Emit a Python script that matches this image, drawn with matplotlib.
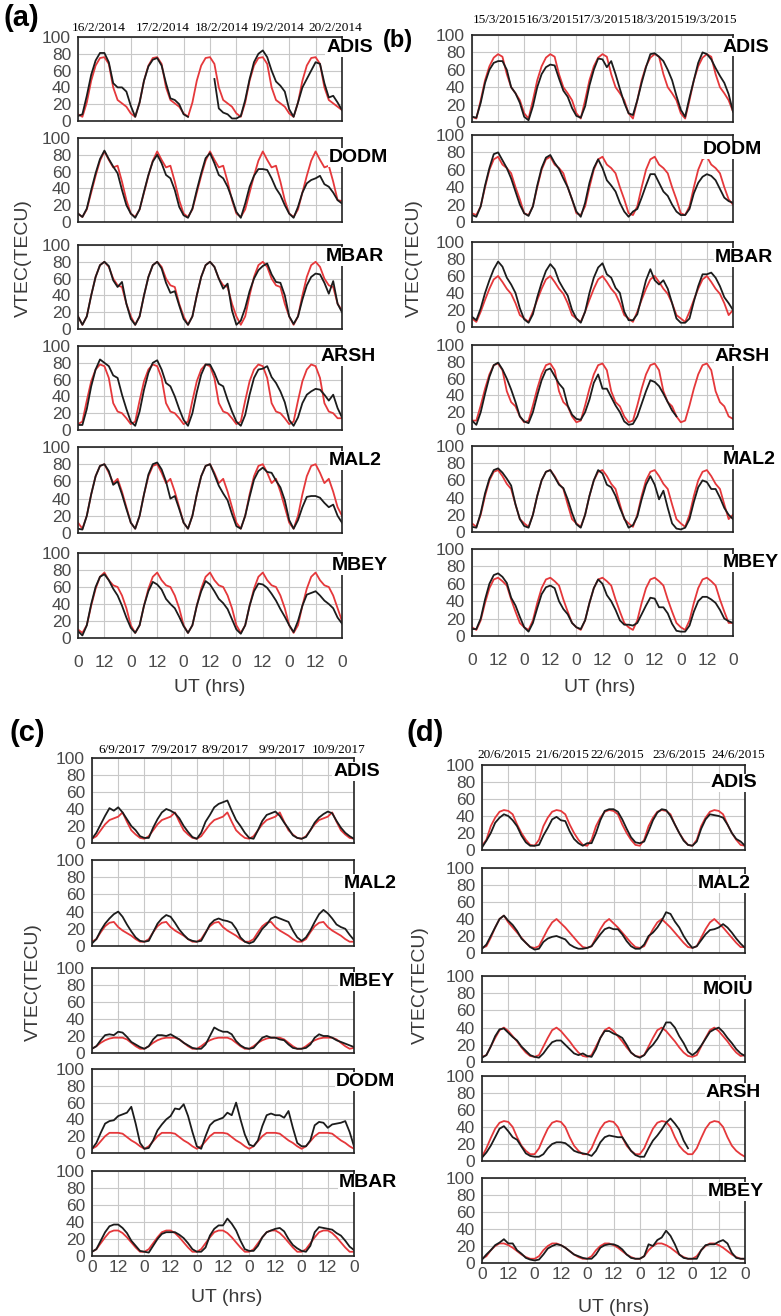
import matplotlib
matplotlib.use("Agg")
import matplotlib.pyplot as plt
import numpy as np

nan = np.nan
W, H = 781, 1316  # canvas in px
hours = np.arange(0, 121, 2)  # UT hours over the 5 days, 2 h steps

# |-----------------------------|
# | (a) 16-20 February 2014     |
# |-----------------------------|
a_dates = ["16/2/2014", "17/2/2014", "18/2/2014", "19/2/2014", "20/2/2014"]
a_stations = ["ADIS", "DODM", "MBAR", "ARSH", "MAL2", "MBEY"]

a_adis_red = [8, 5, 22, 48, 66, 75, 76, 68, 40, 25, 21, 17,
              9, 5, 22, 48, 66, 75, 76, 68, 40, 25, 21, 17,
              9, 5, 22, 48, 66, 75, 76, 68, 40, 25, 21, 17,
              9, 5, 22, 48, 66, 75, 76, 68, 40, 25, 21, 17,
              9, 5, 22, 48, 66, 75, 76, 68, 40, 25, 21, 17, 13]
a_adis_black = [6, 8, 30, 55, 72, 81, 81, 70, 45, 40, 40, 35,
                18, 5, 22, 48, 65, 73, 75, 66, 45, 27, 25, 20,
                8, 5, nan, nan, nan, nan, nan, 50, 15, 10, 8, 3,
                3, 6, 25, 50, 70, 80, 84, 76, 60, 47, 42, 35,
                14, 5, 22, 40, 50, 60, 70, 68, 45, 28, 30, 22, 13]

a_dodm_red = [10, 6, 15, 35, 55, 73, 84, 74, 65, 67, 48, 26,
              10, 6, 15, 35, 55, 73, 84, 74, 65, 67, 48, 26,
              10, 6, 15, 35, 55, 73, 84, 74, 65, 67, 48, 26,
              10, 6, 15, 35, 55, 73, 84, 74, 65, 67, 48, 26,
              10, 6, 15, 35, 55, 73, 84, 74, 65, 67, 48, 26, 25]
a_dodm_black = [10, 6, 16, 38, 58, 75, 85, 75, 66, 58, 38, 20,
                10, 5, 15, 36, 56, 72, 80, 70, 56, 52, 38, 18,
                8, 5, 16, 38, 58, 76, 82, 70, 56, 52, 42, 28,
                12, 5, 22, 42, 55, 63, 63, 62, 52, 40, 32, 20,
                10, 5, 18, 35, 46, 50, 52, 55, 45, 42, 35, 26, 22]

a_mbar_red = [15, 5, 15, 40, 62, 76, 80, 74, 60, 52, 50, 30,
              15, 5, 15, 40, 62, 76, 80, 74, 60, 52, 50, 30,
              15, 5, 15, 40, 62, 76, 80, 74, 60, 52, 50, 30,
              15, 5, 15, 40, 62, 76, 80, 74, 60, 52, 50, 30,
              15, 5, 15, 40, 62, 76, 80, 74, 60, 52, 50, 30, 22]
a_mbar_black = [15, 5, 15, 40, 62, 76, 80, 75, 58, 50, 56, 30,
                12, 5, 15, 40, 62, 76, 80, 72, 55, 43, 45, 28,
                12, 5, 15, 40, 62, 76, 80, 74, 60, 48, 54, 22,
                5, 10, 25, 45, 60, 70, 75, 78, 65, 56, 55, 40,
                15, 6, 15, 35, 52, 62, 66, 65, 55, 42, 57, 30, 20]

a_arsh_red = [7, 10, 35, 58, 72, 78, 76, 62, 32, 22, 20, 14,
              7, 10, 35, 58, 72, 78, 76, 62, 32, 22, 20, 14,
              7, 10, 35, 58, 72, 78, 76, 62, 32, 22, 20, 14,
              7, 10, 35, 58, 72, 78, 76, 62, 32, 22, 20, 14,
              7, 10, 35, 58, 72, 78, 76, 62, 32, 22, 20, 14, 14]
a_arsh_black = [6, 6, 25, 52, 72, 84, 80, 76, 65, 62, 42, 25,
                10, 5, 22, 48, 68, 80, 83, 72, 56, 52, 40, 25,
                12, 5, 20, 45, 66, 78, 78, 68, 55, 52, 36, 22,
                10, 5, 18, 42, 62, 72, 73, 76, 63, 56, 46, 33,
                12, 5, 15, 32, 42, 46, 49, 48, 42, 35, 42, 26, 15]

a_mal2_red = [12, 5, 20, 45, 66, 78, 80, 70, 58, 63, 48, 30,
              12, 5, 20, 45, 66, 78, 80, 70, 58, 63, 48, 30,
              12, 5, 20, 45, 66, 78, 80, 70, 58, 63, 48, 30,
              12, 5, 20, 45, 66, 78, 80, 70, 58, 63, 48, 30,
              12, 5, 20, 45, 66, 78, 80, 70, 58, 63, 48, 30, 20]
a_mal2_black = [5, 4, 20, 45, 66, 78, 80, 72, 56, 60, 45, 28,
                12, 5, 20, 45, 68, 80, 82, 74, 60, 40, 43, 28,
                12, 5, 20, 45, 66, 78, 80, 68, 55, 46, 38, 22,
                8, 5, 20, 42, 62, 72, 76, 71, 70, 61, 53, 38,
                15, 5, 15, 30, 42, 43, 43, 41, 35, 30, 33, 20, 12]

a_mbey_red = [10, 6, 15, 38, 58, 72, 77, 68, 62, 60, 50, 35,
              15, 6, 15, 38, 58, 72, 77, 68, 62, 60, 50, 35,
              15, 6, 15, 38, 58, 72, 77, 68, 62, 60, 50, 35,
              15, 6, 15, 38, 58, 72, 77, 68, 62, 60, 50, 35,
              15, 6, 15, 38, 58, 72, 77, 68, 62, 60, 50, 35, 20]
a_mbey_black = [8, 3, 15, 40, 60, 72, 75, 68, 58, 50, 38, 24,
                12, 6, 15, 38, 55, 66, 63, 57, 46, 40, 35, 25,
                14, 6, 15, 38, 55, 67, 63, 55, 46, 41, 34, 22,
                10, 5, 15, 38, 55, 64, 63, 59, 52, 44, 34, 25,
                15, 7, 20, 38, 51, 53, 55, 50, 44, 40, 35, 24, 17]

# |-----------------------------|
# | (b) 15-19 March 2015        |
# |-----------------------------|
b_dates = ["15/3/2015", "16/3/2015", "17/3/2015", "18/3/2015", "19/3/2015"]
b_stations = ["ADIS", "DODM", "MBAR", "ARSH", "MAL2", "MBEY"]

b_adis_red = [6, 4, 25, 48, 64, 74, 78, 75, 55, 40, 33, 25,
              10, 4, 25, 48, 64, 74, 78, 75, 55, 40, 33, 25,
              10, 4, 25, 48, 64, 74, 78, 75, 55, 40, 33, 25,
              10, 4, 25, 48, 64, 74, 78, 75, 55, 40, 33, 25,
              10, 4, 25, 48, 64, 74, 78, 75, 55, 40, 33, 25, 12]
b_adis_black = [6, 5, 22, 45, 60, 68, 70, 70, 60, 40, 33, 22,
                6, 2, 18, 40, 55, 63, 66, 65, 50, 36, 29, 16,
                7, 5, 18, 42, 60, 73, 72, 63, 70, 55, 38, 22,
                10, 8, 25, 45, 63, 78, 79, 75, 70, 60, 48, 30,
                14, 6, 28, 48, 68, 80, 78, 72, 62, 53, 45, 32, 12]

b_dodm_red = [10, 8, 18, 40, 60, 72, 75, 66, 62, 56, 40, 26,
              10, 8, 18, 40, 60, 72, 75, 66, 62, 56, 40, 26,
              10, 8, 18, 40, 60, 72, 75, 66, 62, 56, 40, 26,
              10, 8, 18, 40, 60, 72, 75, 66, 62, 56, 40, 26,
              10, 8, 18, 40, 60, 72, 75, 66, 62, 56, 40, 26, 20]
b_dodm_black = [8, 6, 18, 42, 62, 78, 80, 71, 62, 50, 35, 20,
                10, 7, 18, 42, 62, 74, 77, 68, 61, 50, 40, 26,
                12, 6, 22, 45, 62, 72, 62, 48, 42, 35, 22, 12,
                6, 12, 15, 28, 42, 55, 55, 45, 35, 30, 20, 12,
                8, 8, 15, 33, 45, 52, 55, 53, 48, 38, 28, 24, 22]

b_mbar_red = [10, 6, 18, 32, 45, 56, 60, 53, 45, 39, 28, 14,
              10, 6, 18, 32, 45, 56, 60, 53, 45, 39, 28, 14,
              10, 6, 18, 32, 45, 56, 60, 53, 45, 39, 28, 14,
              10, 6, 18, 32, 45, 56, 60, 53, 45, 39, 28, 14,
              10, 6, 18, 32, 45, 56, 60, 53, 45, 39, 28, 14, 20]
b_mbar_black = [12, 8, 22, 40, 55, 68, 77, 71, 58, 50, 40, 22,
                9, 5, 15, 35, 52, 66, 74, 68, 54, 45, 37, 20,
                10, 5, 18, 40, 58, 70, 75, 62, 58, 46, 40, 18,
                8, 8, 15, 35, 55, 68, 55, 50, 55, 45, 28, 10,
                5, 5, 10, 30, 48, 62, 62, 64, 58, 48, 35, 28, 20]

b_arsh_red = [10, 10, 28, 48, 65, 76, 78, 70, 45, 32, 27, 15,
              8, 10, 28, 48, 65, 76, 78, 70, 45, 32, 27, 15,
              8, 10, 28, 48, 65, 76, 78, 70, 45, 32, 27, 15,
              8, 10, 28, 48, 65, 76, 78, 70, 45, 32, 27, 15,
              8, 10, 28, 48, 65, 76, 78, 70, 45, 32, 27, 15, 12]
b_arsh_black = [10, 5, 20, 42, 62, 76, 79, 71, 60, 47, 32, 15,
                9, 7, 20, 40, 58, 70, 72, 63, 54, 48, 28, 17,
                12, 11, 20, 35, 55, 65, 48, 48, 38, 28, 20, 9,
                5, 6, 15, 30, 45, 58, 56, 51, 42, 32, 22, 15,
                nan, nan, nan, nan, nan, nan, nan, nan, nan, nan, nan, nan, nan]

b_mal2_red = [10, 6, 20, 42, 60, 70, 72, 65, 56, 50, 32, 15,
              10, 6, 20, 42, 60, 70, 72, 65, 56, 50, 32, 15,
              10, 6, 20, 42, 60, 70, 72, 65, 56, 50, 32, 15,
              10, 6, 20, 42, 60, 70, 72, 65, 56, 50, 32, 15,
              10, 6, 20, 42, 60, 70, 72, 65, 56, 50, 32, 15, 20]
b_mal2_black = [6, 5, 22, 45, 62, 72, 74, 69, 62, 54, 32, 15,
                7, 5, 20, 42, 60, 70, 72, 64, 55, 51, 38, 22,
                9, 5, 20, 42, 60, 72, 68, 55, 52, 42, 28, 16,
                5, 8, 18, 38, 55, 65, 55, 38, 48, 28, 10, 4,
                3, 5, 15, 35, 52, 60, 58, 50, 50, 40, 28, 20, 15]

b_mbey_red = [10, 7, 18, 38, 55, 65, 67, 63, 58, 42, 28, 15,
              10, 7, 18, 38, 55, 65, 67, 63, 58, 42, 28, 15,
              10, 7, 18, 38, 55, 65, 67, 63, 58, 42, 28, 15,
              10, 7, 18, 38, 55, 65, 67, 63, 58, 42, 28, 15,
              10, 7, 18, 38, 55, 65, 67, 63, 58, 42, 28, 15, 15]
b_mbey_black = [8, 8, 20, 42, 60, 70, 72, 68, 61, 44, 35, 22,
                10, 5, 15, 32, 48, 56, 58, 55, 40, 31, 25, 15,
                10, 8, 18, 38, 55, 65, 60, 47, 40, 30, 18, 13,
                13, 12, 15, 25, 35, 44, 43, 33, 33, 26, 14, 6,
                5, 5, 12, 28, 40, 45, 45, 42, 38, 30, 20, 17, 15]

# |-----------------------------|
# | (c) 6-10 September 2017     |
# |-----------------------------|
c_dates = ["6/9/2017", "7/9/2017", "8/9/2017", "9/9/2017", "10/9/2017"]
c_stations = ["ADIS", "MAL2", "MBEY", "DODM", "MBAR"]

c_adis_red = [5, 8, 15, 22, 27, 29, 31, 36, 25, 15, 10, 6,
              5, 8, 15, 22, 27, 29, 31, 36, 25, 15, 10, 6,
              5, 8, 15, 22, 27, 29, 31, 36, 25, 15, 10, 6,
              5, 8, 15, 22, 27, 29, 31, 36, 25, 15, 10, 6,
              5, 8, 15, 22, 27, 29, 31, 36, 25, 15, 10, 6, 5]
c_adis_black = [5, 12, 22, 32, 41, 38, 42, 36, 28, 20, 15, 8,
                6, 6, 18, 28, 36, 40, 38, 35, 29, 20, 13, 7,
                5, 12, 25, 33, 42, 46, 48, 50, 38, 27, 20, 12,
                6, 5, 15, 26, 33, 35, 37, 32, 24, 17, 9, 6,
                5, 7, 15, 24, 30, 34, 37, 35, 26, 18, 12, 8, 5]

c_mal2_red = [5, 8, 16, 23, 27, 28, 22, 18, 15, 12, 8, 5,
              5, 8, 16, 23, 27, 28, 22, 18, 15, 12, 8, 5,
              5, 8, 16, 23, 27, 28, 22, 18, 15, 12, 8, 5,
              5, 8, 16, 23, 27, 28, 22, 18, 15, 12, 8, 5,
              5, 8, 16, 23, 27, 28, 22, 18, 15, 12, 8, 5, 5]
c_mal2_black = [3, 8, 18, 26, 32, 37, 40, 34, 25, 17, 10, 6,
                5, 6, 16, 26, 32, 36, 34, 27, 19, 13, 8, 6,
                5, 6, 15, 25, 30, 32, 30, 29, 27, 20, 10, 5,
                3, 5, 12, 20, 25, 32, 34, 32, 30, 28, 18, 10,
                6, 10, 18, 28, 37, 42, 38, 32, 25, 22, 20, 13, 7]

c_mbey_red = [5, 8, 12, 15, 17, 18, 18, 18, 16, 12, 8, 5,
              5, 8, 12, 15, 17, 18, 18, 18, 16, 12, 8, 5,
              5, 8, 12, 15, 17, 18, 18, 18, 16, 12, 8, 5,
              5, 8, 12, 15, 17, 18, 18, 18, 16, 12, 8, 5,
              5, 8, 12, 15, 17, 18, 18, 18, 16, 12, 8, 5, 6]
c_mbey_black = [5, 8, 15, 21, 22, 21, 25, 24, 19, 13, 10, 7,
                5, 8, 16, 21, 21, 20, 22, 19, 16, 12, 9, 6,
                5, 5, 10, 20, 30, 27, 25, 25, 22, 14, 9, 6,
                5, 6, 12, 18, 20, 18, 18, 16, 15, 10, 6, 5,
                5, 6, 10, 18, 22, 20, 20, 18, 15, 13, 11, 9, 7]

c_dodm_red = [5, 8, 14, 20, 24, 24, 24, 23, 19, 15, 12, 8,
              5, 8, 14, 20, 24, 24, 24, 23, 19, 15, 12, 8,
              5, 8, 14, 20, 24, 24, 24, 23, 19, 15, 12, 8,
              5, 8, 14, 20, 24, 24, 24, 23, 19, 15, 12, 8,
              5, 8, 14, 20, 24, 24, 24, 23, 19, 15, 12, 8, 5]
c_dodm_black = [5, 12, 24, 35, 38, 39, 44, 46, 48, 55, 35, 12,
                5, 6, 15, 27, 34, 40, 44, 53, 52, 58, 44, 25,
                8, 5, 20, 33, 38, 40, 42, 48, 45, 60, 40, 22,
                10, 8, 15, 32, 45, 47, 45, 45, 42, 50, 30, 12,
                8, 8, 15, 33, 37, 36, 30, 34, 35, 36, 38, 25, 8]

c_mbar_red = [5, 8, 15, 22, 28, 30, 30, 27, 22, 16, 10, 5,
              5, 8, 15, 22, 28, 30, 30, 27, 22, 16, 10, 5,
              5, 8, 15, 22, 28, 30, 30, 27, 22, 16, 10, 5,
              5, 8, 15, 22, 28, 30, 30, 27, 22, 16, 10, 5,
              5, 8, 15, 22, 28, 30, 30, 27, 22, 16, 10, 5, 5]
c_mbar_black = [5, 8, 18, 28, 35, 37, 37, 33, 27, 18, 12, 6,
                5, 4, 12, 20, 26, 28, 28, 28, 25, 21, 15, 8,
                5, 5, 10, 24, 32, 36, 36, 44, 38, 30, 18, 8,
                6, 6, 12, 22, 28, 30, 32, 33, 29, 20, 13, 9,
                6, 5, 12, 28, 34, 33, 32, 31, 27, 24, 18, 11, 7]

# |-----------------------------|
# | (d) 20-24 June 2015         |
# |-----------------------------|
d_dates = ["20/6/2015", "21/6/2015", "22/6/2015", "23/6/2015", "24/6/2015"]
d_stations = ["ADIS", "MAL2", "MOIU", "ARSH", "MBEY"]

d_adis_red = [5, 12, 28, 38, 45, 47, 46, 42, 30, 20, 12, 6,
              5, 12, 28, 38, 45, 47, 46, 42, 30, 20, 12, 6,
              5, 12, 28, 38, 45, 47, 46, 42, 30, 20, 12, 6,
              5, 12, 28, 38, 45, 47, 46, 42, 30, 20, 12, 6,
              5, 12, 28, 38, 45, 47, 46, 42, 30, 20, 12, 6, 5]
d_adis_black = [3, 11, 20, 32, 38, 42, 40, 35, 28, 17, 9, 5,
                5, 6, 17, 26, 36, 39, 35, 34, 22, 13, 8, 5,
                8, 8, 20, 35, 46, 48, 48, 45, 36, 25, 15, 9,
                8, 10, 22, 35, 44, 48, 47, 40, 30, 20, 11, 6,
                5, 10, 25, 36, 42, 41, 40, 38, 30, 20, 13, 10, 5]

d_mal2_red = [6, 8, 18, 30, 40, 44, 36, 30, 24, 18, 12, 7,
              6, 8, 18, 28, 36, 40, 35, 30, 24, 18, 12, 7,
              6, 8, 18, 28, 36, 40, 35, 30, 24, 18, 12, 7,
              6, 8, 18, 28, 36, 40, 35, 30, 24, 18, 12, 7,
              6, 8, 18, 28, 36, 40, 35, 30, 24, 18, 12, 7, 7]
d_mal2_black = [5, 10, 20, 30, 40, 44, 38, 33, 26, 17, 12, 7,
                4, 5, 13, 17, 19, 20, 18, 16, 10, 7, 5, 5,
                6, 8, 15, 22, 28, 30, 28, 28, 22, 14, 8, 5,
                5, 10, 20, 24, 30, 38, 48, 46, 37, 30, 20, 12,
                6, 8, 15, 22, 27, 28, 30, 34, 30, 24, 17, 11, 6]

d_moiu_red = [6, 8, 18, 28, 37, 40, 36, 30, 24, 17, 11, 7,
              6, 8, 18, 28, 37, 40, 36, 30, 24, 17, 11, 7,
              6, 8, 18, 28, 37, 40, 36, 30, 24, 17, 11, 7,
              6, 8, 18, 28, 37, 40, 36, 30, 24, 17, 11, 7,
              6, 8, 18, 28, 37, 40, 36, 30, 24, 17, 11, 7, 8]
d_moiu_black = [5, 8, 18, 30, 38, 39, 34, 29, 25, 18, 13, 8,
                6, 5, 10, 17, 23, 25, 25, 20, 15, 10, 8, 10,
                7, 6, 15, 28, 36, 36, 33, 31, 28, 20, 11, 7,
                5, 8, 15, 20, 27, 36, 46, 46, 40, 30, 22, 12,
                8, 12, 19, 27, 35, 38, 40, 35, 28, 22, 15, 10, 7]

d_arsh_red = [5, 15, 27, 38, 45, 47, 46, 40, 28, 18, 12, 8,
              8, 15, 27, 38, 45, 47, 46, 40, 28, 18, 12, 8,
              8, 15, 27, 38, 45, 47, 46, 40, 28, 18, 12, 8,
              8, 15, 27, 38, 45, 47, 46, 40, 28, 18, 12, 8,
              8, 15, 27, 38, 45, 47, 46, 40, 28, 18, 12, 8, 5]
d_arsh_black = [4, 10, 18, 28, 38, 41, 35, 28, 25, 17, 9, 6,
                5, 5, 8, 15, 20, 22, 22, 21, 17, 12, 10, 9,
                8, 6, 12, 22, 28, 30, 29, 28, 28, 20, 12, 7,
                5, 5, 15, 24, 30, 37, 45, 50, 44, 37, 24, 15,
                nan, nan, nan, nan, nan, nan, nan, nan, nan, nan, nan, nan, nan]

d_mbey_red = [5, 8, 15, 20, 23, 23, 21, 18, 14, 10, 7, 5,
              5, 8, 15, 20, 23, 23, 21, 18, 14, 10, 7, 5,
              5, 8, 15, 20, 23, 23, 21, 18, 14, 10, 7, 5,
              5, 8, 15, 20, 23, 23, 21, 18, 14, 10, 7, 5,
              5, 8, 15, 20, 23, 23, 21, 18, 14, 10, 7, 5, 5]
d_mbey_black = [4, 10, 15, 21, 24, 28, 23, 23, 15, 11, 6, 4,
                3, 4, 10, 17, 20, 22, 21, 18, 14, 10, 8, 6,
                5, 5, 10, 18, 21, 22, 22, 20, 16, 10, 6, 5,
                5, 8, 22, 20, 27, 30, 38, 32, 22, 10, 6, 5,
                5, 5, 15, 21, 22, 22, 25, 27, 23, 12, 6, 5, 5]

# |-------|
# | Style |
# |-------|
plt.rcParams["font.family"] = ["Liberation Sans", "DejaVu Sans"]
RED = "#e5383b"
BLACK = "#1c1c1c"
TICK_C = "#4a4a4a"
x_labels = ["0", "12"] * 5 + ["0"]

fig = plt.figure(figsize=(W / 100, H / 100), dpi=100)


def fx(x):
    return x / W


def fy(y):
    return 1 - y / H


def draw_panel(x0, x1, boxes, stations, reds, blacks, label_pos, xpad):
    for i, (top, bot) in enumerate(boxes):
        ax = fig.add_axes([fx(x0), fy(bot), (x1 - x0) / W, (bot - top) / H])
        ax.plot(hours, reds[i], color=RED, lw=1.3)
        ax.plot(hours, blacks[i], color=BLACK, lw=1.3)
        ax.set_xlim(0, 120)
        ax.set_ylim(0, 100)
        ax.set_xticks(np.arange(0, 121, 12))
        ax.set_yticks(np.arange(0, 101, 20))
        ax.grid(True, color="#c8c8c8", lw=0.8)
        ax.set_axisbelow(True)
        for s in ax.spines.values():
            s.set_color("#222222")
            s.set_linewidth(1.2)
        ax.tick_params(length=0, labelsize=12.5, colors=TICK_C, pad=5)
        ax.tick_params(axis="x", pad=xpad)
        if i == len(boxes) - 1:
            ax.set_xticklabels(x_labels)
        else:
            ax.set_xticklabels([])
        lx, ly = label_pos[i]
        ax.text(lx, ly, stations[i], transform=ax.transAxes, fontsize=14,
                fontweight="bold", ha="left", va="center", color="black",
                bbox=dict(facecolor="white", edgecolor="none", pad=0.5),
                clip_on=False, zorder=5)


draw_panel(78, 342,
           [(37, 121), (138, 222), (245, 329), (346, 430), (447, 533), (553, 638)],
           a_stations,
           [a_adis_red, a_dodm_red, a_mbar_red, a_arsh_red, a_mal2_red, a_mbey_red],
           [a_adis_black, a_dodm_black, a_mbar_black, a_arsh_black, a_mal2_black, a_mbey_black],
           [(0.94, 0.87), (0.95, 0.77), (0.94, 0.86), (0.92, 0.87), (0.95, 0.84), (0.96, 0.85)],
           12)
draw_panel(472, 733,
           [(35, 122), (135, 222), (242, 327), (345, 429), (446, 532), (549, 636)],
           b_stations,
           [b_adis_red, b_dodm_red, b_mbar_red, b_arsh_red, b_mal2_red, b_mbey_red],
           [b_adis_black, b_dodm_black, b_mbar_black, b_arsh_black, b_mal2_black, b_mbey_black],
           [(0.96, 0.86), (0.885, 0.83), (0.93, 0.82), (0.93, 0.86), (0.96, 0.84), (0.96, 0.84)],
           12)
draw_panel(92, 354,
           [(758, 843), (860, 946), (968, 1053), (1069, 1153), (1171, 1256)],
           c_stations,
           [c_adis_red, c_mal2_red, c_mbey_red, c_dodm_red, c_mbar_red],
           [c_adis_black, c_mal2_black, c_mbey_black, c_dodm_black, c_mbar_black],
           [(0.92, 0.84), (0.96, 0.73), (0.94, 0.84), (0.93, 0.85), (0.94, 0.86)],
           3)
draw_panel(482, 745,
           [(765, 850), (868, 953), (976, 1062), (1076, 1161), (1178, 1263)],
           d_stations,
           [d_adis_red, d_mal2_red, d_moiu_red, d_arsh_red, d_mbey_red],
           [d_adis_black, d_mal2_black, d_moiu_black, d_arsh_black, d_mbey_black],
           [(0.87, 0.79), (0.82, 0.82), (0.84, 0.84), (0.85, 0.81), (0.86, 0.84)],
           3)

# dates above each panel
date_rows = [(a_dates, [99, 163, 222, 278, 335], 28),
             (b_dates, [500, 553, 605, 658, 711], 20),
             (c_dates, [122, 174, 225, 282, 339], 750),
             (d_dates, [504, 562, 617, 679, 738], 755)]
for dates, xs, y in date_rows:
    for d, x in zip(dates, xs):
        fig.text(fx(x), fy(y), d, fontsize=9.5, family="Liberation Serif",
                 ha="center", va="center", color="black")

# axis titles
for x, y in [(23, 258), (414, 258), (33, 982), (420, 985)]:
    fig.text(fx(x), fy(y), "VTEC(TECU)", rotation=90, fontsize=14,
             ha="center", va="center", color="#3a3a3a")
for x, y in [(210, 687), (600, 687), (227, 1298), (614, 1307)]:
    fig.text(fx(x), fy(y), "UT (hrs)", fontsize=14, ha="center", va="center",
             color="#3a3a3a")

# panel letters
for lab, x, y, size in [("(a)", 21, 18, 21), ("(b)", 398, 40, 17),
                        ("(c)", 27, 733, 21), ("(d)", 425, 733, 21)]:
    fig.text(fx(x), fy(y), lab, fontsize=size, fontweight="bold",
             ha="center", va="center", color="black",
             bbox=dict(facecolor="white", edgecolor="none", pad=0.5), zorder=10)

fig.savefig("out.png", dpi=100)
